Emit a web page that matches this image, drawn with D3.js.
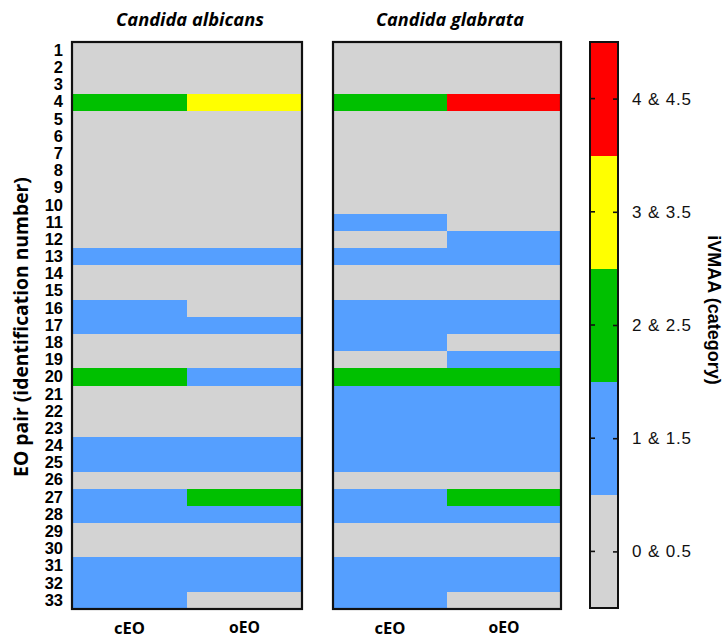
<!DOCTYPE html>
<html><head><meta charset="utf-8">
<script src="https://cdn.jsdelivr.net/npm/d3@7"></script>
<style>body{margin:0;background:#fff}svg{display:block}</style>
</head><body>
<svg id="c" width="725" height="640"></svg>
<script>
const rowIds = d3.range(1, 34).map(String);
const columns = ["cEO", "oEO"];
const speciesNames = ["Candida albicans", "Candida glabrata"];
const categoryLabels = ["0 & 0.5", "1 & 1.5", "2 & 2.5", "3 & 3.5", "4 & 4.5"];
const categoryColors = ["#d3d3d3", "#559fff", "#00c000", "#ffff00", "#ff0000"];

const albicansCEO = [0,0,0,2,0,0,0,0,0,0,0,0,1,0,0,1,1,0,0,2,0,0,0,1,1,0,1,1,0,0,1,1,1];
const albicansOEO = [0,0,0,3,0,0,0,0,0,0,0,0,1,0,0,0,1,0,0,1,0,0,0,1,1,0,2,1,0,0,1,1,0];
const glabrataCEO = [0,0,0,2,0,0,0,0,0,0,1,0,1,0,0,1,1,1,0,2,1,1,1,1,1,0,1,1,0,0,1,1,1];
const glabrataOEO = [0,0,0,4,0,0,0,0,0,0,0,1,1,0,0,1,1,0,1,2,1,1,1,1,1,0,2,1,0,0,1,1,0];

(function(){
const panels = [
  {name: speciesNames[0], values: [albicansCEO, albicansOEO], x0: 72, x1: 302},
  {name: speciesNames[1], values: [glabrataCEO, glabrataOEO], x0: 333, x1: 561}
];

const svg = d3.select("#c");
const yTop = 42, yBottom = 609;
const y = d3.scaleBand().domain(rowIds).range([yTop, yBottom]);
const color = d3.scaleOrdinal().domain(d3.range(5)).range(categoryColors);
const titleFont = "'Open Sans', Lato, sans-serif";
const numFont = "'Liberation Sans', Arial, sans-serif";

function fit(sel, target) {
  const n = sel.node();
  const fs = parseFloat(sel.attr("font-size"));
  const w = n.getComputedTextLength();
  if (w > 0) sel.attr("font-size", (fs * target / w).toFixed(2));
  return sel;
}

panels.forEach((p, pi) => {
  const x = d3.scaleBand().domain(columns).range([p.x0, p.x1]);
  const g = svg.append("g");
  const cells = [];
  columns.forEach((c, ci) => p.values[ci].forEach((v, ri) => cells.push({c, r: rowIds[ri], v})));
  g.selectAll("rect.cell").data(cells).join("rect")
    .attr("class", "cell")
    .attr("shape-rendering", "crispEdges")
    .attr("x", d => x(d.c)).attr("y", d => y(d.r))
    .attr("width", x.bandwidth()).attr("height", y.bandwidth() + 0.5)
    .attr("fill", d => color(d.v));
  g.append("rect").attr("x", p.x0).attr("y", yTop).attr("width", p.x1 - p.x0).attr("height", yBottom - yTop)
    .attr("fill", "none").attr("stroke", "#111").attr("stroke-width", 2.2);
  const t = svg.append("text").attr("x", (p.x0 + p.x1) / 2 + 3).attr("y", 26)
    .attr("text-anchor", "middle").attr("font-family", titleFont).attr("font-weight", "bold")
    .attr("font-style", "italic").attr("font-size", 17).text(p.name);
  fit(t, 148);
  const xa = svg.append("g").attr("transform", `translate(0,${yBottom})`)
    .call(d3.axisBottom(x).tickSize(0).tickPadding(13));
  xa.select(".domain").remove();
  xa.selectAll("text").attr("font-family", titleFont).attr("font-weight", "bold").attr("font-size", 16).attr("fill", "#000");
  xa.selectAll("text").each(function(){ fit(d3.select(this), 31); });
  if (pi === 0) {
    const ya = svg.append("g").attr("transform", `translate(${p.x0},0)`)
      .call(d3.axisLeft(y).tickSize(0).tickPadding(9));
    ya.select(".domain").remove();
    ya.selectAll("text").attr("font-family", numFont).attr("font-weight", "bold").attr("font-size", 16.5).attr("fill", "#000");
  }
});

const yt = svg.append("text").attr("transform", "translate(28,327) rotate(-90)")
  .attr("text-anchor", "middle").attr("font-family", titleFont).attr("font-weight", "bold")
  .attr("font-size", 17).text("EO pair (identification number)");
fit(yt, 300);

const cbX0 = 590, cbX1 = 618, cbTop = 42, cbBottom = 608;
const cy = d3.scaleBand().domain(d3.range(5).reverse()).range([cbTop, cbBottom]);
const cb = svg.append("g");
cb.selectAll("rect.cb").data(d3.range(5)).join("rect").attr("class", "cb")
  .attr("shape-rendering", "crispEdges")
  .attr("x", cbX0).attr("y", d => cy(d)).attr("width", cbX1 - cbX0).attr("height", cy.bandwidth() + 0.5)
  .attr("fill", d => color(d));
cb.append("rect").attr("x", cbX0).attr("y", cbTop).attr("width", cbX1 - cbX0).attr("height", cbBottom - cbTop)
  .attr("fill", "none").attr("stroke", "#111").attr("stroke-width", 2);
const cbPos = d3.scalePoint().domain(d3.range(5).reverse())
  .range([cy(4) + cy.bandwidth() / 2, cy(0) + cy.bandwidth() / 2]);
const cbAxis = cb.append("g").attr("transform", `translate(${cbX1},0)`)
  .call(d3.axisRight(cbPos).tickSize(-5).tickPadding(14).tickFormat(d => categoryLabels[d]));
cbAxis.select(".domain").remove();
cbAxis.selectAll("line").attr("stroke", "#111").attr("stroke-width", 1.6);
cbAxis.selectAll("text").attr("font-family", numFont).attr("font-size", 17)
  .attr("textLength", 59).attr("lengthAdjust", "spacing").attr("fill", "#111");
cb.selectAll("line.lt").data(d3.range(5)).join("line").attr("class", "lt")
  .attr("x1", cbX0).attr("x2", cbX0 + 5).attr("y1", d => cbPos(d)).attr("y2", d => cbPos(d))
  .attr("stroke", "#111").attr("stroke-width", 1.6);
svg.append("text").attr("transform", "translate(708,310) rotate(90)")
  .attr("text-anchor", "middle").attr("font-family", numFont).attr("font-weight", "bold")
  .attr("font-size", 18).text("iVMAA (category)");
})();
</script>
</body></html>
